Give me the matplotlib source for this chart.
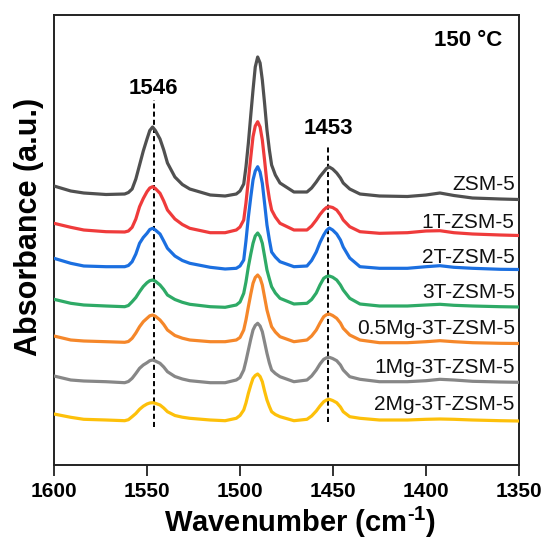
import matplotlib
matplotlib.use("Agg")
import matplotlib.pyplot as plt

plt.rcParams['font.family'] = ['Liberation Sans', 'DejaVu Sans']
plt.rcParams['mathtext.fontset'] = 'custom'
plt.rcParams['mathtext.rm'] = 'Liberation Sans:bold'
plt.rcParams['mathtext.bf'] = 'Liberation Sans:bold'

# ---- data (y in arbitrary units incl. vertical offsets) ----
wavenumber = [1600, 1591, 1584, 1572,
              1562, 1560, 1558, 1556, 1554, 1552, 1550, 1548.5, 1547, 1545.5, 1543, 1541, 1539,
              1535, 1531, 1527, 1516, 1508,
              1502, 1500, 1498, 1496.8, 1495.5, 1494.2, 1493, 1491.8, 1490.5, 1489.2, 1488,
              1486.8, 1485.5, 1484.2, 1483, 1481,
              1478.5, 1471,
              1464, 1461.5, 1459, 1457, 1455, 1453.5, 1452, 1450.2, 1448, 1446, 1444.5, 1441,
              1435.5, 1425, 1410, 1400, 1392.5, 1385, 1375, 1360, 1350]

zsm5 = [279, 274, 272, 270.5,
        271, 272.5, 276, 286, 300, 314, 326, 334.5, 338, 334.5, 326, 315, 302,
        288, 280.5, 276, 270, 269,
        271, 274, 281, 298, 322, 350, 375, 398, 408, 402, 385, 362, 335, 315, 300, 290,
        282, 273,
        273, 277, 283, 288.5, 293, 296.5, 298, 296, 292, 287, 282, 276,
        271, 269, 268.5, 270, 272, 269.5, 267, 266, 265.5]
t1 = [241.7, 237.7, 235, 233.3,
      233, 234, 237.7, 246, 258.3, 266.5, 273.3, 277, 278.3, 276.5, 271.7, 264, 255,
      246, 240.5, 236.7, 232.3, 232.3,
      235, 238, 245, 262, 285, 308, 328.3, 339, 343.3, 338, 325, 305, 281.7, 266, 255, 248,
      241.7, 235,
      235, 239, 245, 250.5, 255, 257.5, 258.3, 257.5, 255, 250, 245, 238.3,
      233.3, 231.7, 232.3, 234, 234.3, 232.3, 231, 230, 229.5]
t2 = [206.7, 201.7, 199, 198.3,
      198.3, 199.5, 203.3, 211, 221.7, 227.5, 231.7, 235.5, 236.7, 235, 231, 224, 216.7,
      209, 204.5, 201.7, 197.7, 196,
      196.7, 199, 205, 224, 248, 268, 285, 294, 298.3, 293, 281.7, 262, 240, 225, 213, 208,
      203.3, 198.3,
      199, 204.5, 213, 222.5, 230, 234.5, 237, 235, 231, 225, 218, 207,
      198.3, 196.7, 196.7, 198.3, 199.3, 197.7, 196.7, 195.7, 195.5]
t3 = [165.7, 161.7, 160, 159,
      158.3, 159.5, 163.3, 167.5, 173.3, 178.5, 182.3, 184.3, 185, 183.8, 180, 175.5, 170,
      165.5, 162.7, 160.7, 158.3, 157.7,
      160, 163, 171.7, 183, 198.3, 211, 221.7, 229, 232, 228.5, 221.7, 209, 195, 186, 178.3, 172,
      166.7, 161,
      161.7, 165.5, 172, 180, 186.7, 188.5, 189, 187.8, 185, 180, 175, 166.7,
      161, 159, 159, 160, 160.7, 159.7, 159, 158.3, 158]
mg05 = [129, 125, 124, 123.3,
        122.7, 123.5, 126.7, 132, 138.3, 143.3, 146.7, 149.2, 150, 148.8, 145, 140.5, 135,
        129.5, 126.8, 125, 123.3, 123.3,
        125, 127.5, 135, 145, 158.3, 171, 181.7, 187.5, 190, 187, 180, 168, 155, 146, 138.3, 133,
        128.3, 123.3,
        125, 129, 135, 142, 148.3, 150.3, 151, 149.5, 146.7, 142, 136.7, 130,
        125, 122.3, 122.3, 123.3, 124.3, 123.3, 122.3, 121.7, 121.5]
mg1 = [89, 85, 84, 83.3,
       82.3, 83.5, 86.7, 91.5, 96.7, 100, 102.3, 104.3, 105, 104, 101.7, 98, 93.3,
       88.5, 86, 84.3, 82.3, 82.3,
       85, 87.5, 95, 104, 115, 126, 135, 139.5, 141.7, 139, 133.3, 123, 111.7, 102, 95, 91.5,
       88.3, 83.3,
       85, 89, 95, 101, 105.7, 107.2, 107.7, 106.5, 104.3, 100, 95, 88.3,
       85.7, 83.3, 83.3, 84.3, 85.7, 85, 83.7, 83, 82.7]
mg2 = [51, 47.7, 45.7, 45,
       44.3, 45.3, 48.3, 51.5, 55.7, 58.8, 61, 62, 62.3, 61.7, 60, 57, 53.3,
       49.5, 47.8, 46.7, 45, 44.3,
       46.7, 49.5, 55, 62, 71.7, 80, 86.7, 89.5, 91, 88.5, 83.3, 74, 65, 58.5, 53.3, 50.5,
       48.3, 44.3,
       45.7, 49, 54, 59, 63.3, 65, 65.7, 64.5, 62.3, 58, 53.3, 48.3,
       46.7, 45, 45, 45.7, 46, 45.7, 45, 44.3, 44]

series = [zsm5, t1, t2, t3, mg05, mg1, mg2]
sample_names = ["ZSM-5", "1T-ZSM-5", "2T-ZSM-5", "3T-ZSM-5", "0.5Mg-3T-ZSM-5",
                "1Mg-3T-ZSM-5", "2Mg-3T-ZSM-5"]
label_y = [274.5, 237.5, 202, 166.5, 130.5, 92, 55]
colors = ["#505050", "#ef3b3b", "#1b6fe0", "#2eaa66", "#f5872a", "#878787", "#fdc00a"]

peak_marks = [1546.5, 1452.5]
peak_texts = ["1546", "1453"]
peak_line_top = [365, 318]
peak_line_bottom = [38, 43]
peak_text_y = [371, 331]

xticks = [1600, 1550, 1500, 1450, 1400, 1350]

# ---- figure ----
fig = plt.figure(figsize=(5.46, 5.40), dpi=100)
ax = fig.add_axes([54 / 546, 75 / 540, 465 / 546, 450 / 540])

for ys, c in zip(series, colors):
    ax.plot(wavenumber, ys, color=c, lw=2.3, solid_joinstyle='round',
            solid_capstyle='round', zorder=3)

for name, ly in zip(sample_names, label_y):
    ax.text(1352.3, ly, name, ha='right', va='baseline', fontsize=15, color='#111111')

for x, top, bot, t, ty in zip(peak_marks, peak_line_top, peak_line_bottom, peak_texts, peak_text_y):
    ax.plot([x, x], [bot, top], color='black', lw=1.4, ls=(0, (2.6, 1.6)), zorder=2)
    ax.text(x, ty, t, ha='center', va='baseline', fontsize=16, fontweight='bold')

ax.text(1359, 419.5, "150 °C", ha='right', va='baseline', fontsize=16, fontweight='bold')

ax.set_xlim(1600, 1350)
ax.set_ylim(0, 450)
ax.set_xticks(xticks)
ax.set_xticklabels([str(v) for v in xticks], fontsize=15, fontweight='bold')
ax.set_yticks([])
ax.tick_params(axis='x', direction='out', length=8, width=1.3, color='#222222', pad=4)

for s in ax.spines.values():
    s.set_linewidth(1.4)
    s.set_color('#222222')

ax.set_xlabel("Wavenumber (cm$^{\\text{-1}}$)", fontsize=21, fontweight='bold')
ax.xaxis.set_label_coords(0.53, -0.088)
ax.set_ylabel("Absorbance (a.u.)", fontsize=22, fontweight='bold')
ax.yaxis.set_label_coords(-0.022, 0.53)

fig.savefig("out.png", dpi=100)
